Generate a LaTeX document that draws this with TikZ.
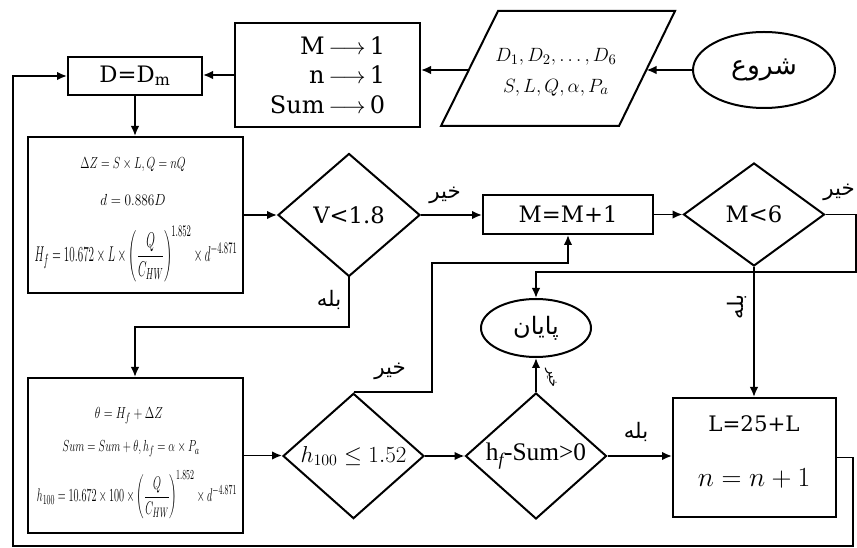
\documentclass[tikz,border=0pt]{standalone}
\usepackage{amsmath}
\usepackage{fontspec}
\usepackage{graphicx}
\setmainfont{Liberation Serif}
\newfontfamily\arabicfont[Script=Arabic]{DejaVu Sans}
\newfontfamily\labfont{DejaVu Serif}
\TeXXeTstate=1
\usetikzlibrary{shapes.geometric,arrows.meta}
\newcommand{\fa}[1]{{\arabicfont\beginR #1\endR}}
\newcommand{\fs}[1]{\fontsize{#1}{#1}\selectfont}
\newcommand{\sqz}[2]{\resizebox{#1}{\height}{#2}}
\begin{document}
\begin{tikzpicture}[x=0.75pt,y=-0.75pt,
  box/.style={draw, line width=1.5pt, inner sep=0pt},
  dia/.style={draw, diamond, line width=1.5pt, inner sep=0pt},
  ell/.style={draw, ellipse, line width=1.5pt, inner sep=0pt},
  arr/.style={line width=1.4pt, -{Latex[length=7.5pt,width=6.5pt]}},
  lab/.style={font=\fs{16}\arabicfont, inner sep=1pt},
  bigtxt/.style={font=\fs{17}\labfont},
  frm/.style={font=\fs{13}, inner sep=0pt}]
\useasboundingbox (0,0) rectangle (857,548);

% start
\node[ell, minimum width=106.5pt, minimum height=57pt] (start) at (764,70) {\fs{20}\fa{شروع}};

% input parallelogram
\draw[line width=1.5pt] (498,11) -- (675,11) -- (619,126) -- (441,126) -- cycle;
\node[inner sep=0pt, align=center, font=\fs{15}] (inp) at (556,72)
  {$D_1, D_2,\ldots, D_6$\\[8pt] $S, L, Q, \alpha, P_a$};
\coordinate (pR) at (646.5,70);
\coordinate (pL) at (469,70);

% init box
\node[box, minimum width=138.75pt, minimum height=78pt, align=right, font=\fs{18}\labfont] (init) at (327.5,75)
  {M\,$\longrightarrow$\,1\\[4pt] n\,$\longrightarrow$\,1\\[4pt] Sum\,$\longrightarrow$\,0};

% D box
\node[box, minimum width=100.5pt, minimum height=28.5pt, bigtxt] (D) at (135,76) {D=D\textsubscript{m}};

% formula box 1
\node[box, minimum width=161.25pt, minimum height=117pt] (b1) at (135.5,215) {};
\node[frm] (b1a) at (133,165) {\sqz{79pt}{$\Delta Z = S\times L, Q = nQ$}};
\node[frm] (b1b) at (133,200) {\sqz{49pt}{$d = 0.886D$}};
\node[frm] (b1c) at (136,254) {\resizebox*{152pt}{42pt}{$H_f = 10.672\times L\times\biggl(\dfrac{Q}{C_{HW}}\biggr)^{\!1.852}\times d^{-4.871}$}};

% V diamond
\node[dia, minimum width=106.5pt, minimum height=92.25pt, bigtxt] (V) at (349,215) {V<1.8};

% M=M+1
\node[box, minimum width=127.5pt, minimum height=29.25pt, bigtxt] (Mb) at (568,214.5) {M=M+1};

% M<6
\node[dia, minimum width=105.75pt, minimum height=77.25pt, bigtxt] (M6) at (754,214.5) {M<6};

% end
\node[ell, minimum width=82.5pt, minimum height=43.5pt] (end) at (536,328) {\fs{18}\fa{پایان}};

% formula box 2
\node[box, minimum width=161.25pt, minimum height=116.25pt] (b2) at (135.5,455.5) {};
\node[frm] (b2a) at (129,416) {\sqz{51pt}{$\theta = H_f + \Delta Z$}};
\node[frm] (b2b) at (131,449) {\sqz{103pt}{$Sum = Sum + \theta, h_f = \alpha\times P_a$}};
\node[frm] (b2c) at (137,495) {\resizebox*{150pt}{36pt}{$h_{100} = 10.672\times 100\times\biggl(\dfrac{Q}{C_{HW}}\biggr)^{\!1.852}\times d^{-4.871}$}};

% h100 diamond
\node[dia, minimum width=105.75pt, minimum height=93pt, font=\fs{18}] (h) at (353.5,456) {$h_{100}\leq 1.52$};

% hf diamond
\node[dia, minimum width=105.75pt, minimum height=92.25pt, font=\fs{19}] (hf) at (536,456) {h\textsubscript{\itshape f}-Sum>0};

% L box
\node[box, minimum width=122.25pt, minimum height=89.25pt] (Lb) at (754.5,457.5) {};
\node[inner sep=0pt, font=\fs{16}\labfont] (Lt1) at (754,424) {L=25+L};
\node[inner sep=0pt, font=\fs{21}] (Lt2) at (754,478) {$n = n+1$};

% connectors
\draw[arr] (start.west) -- (pR);
\draw[arr] (pL) -- (pL -| init.east);
\draw[arr] (init.west) -- (init.west -| D.east);
\draw[arr] (D.south) -- (D.south |- b1.north);
\draw[arr] (b1.east) -- (V.west);
\draw[arr] (V.east) -- (V.east -| Mb.west);
\draw[arr] (Mb.east) -- (M6.west);
\coordinate (c1) at (856,272);
\draw[arr] (M6.east) -| (c1) -| (end.north);
\draw[arr] (M6.south) -- (M6.south |- Lb.north);
\coordinate (c2) at (135,327);
\draw[arr] (V.south) |- (c2) -- (c2 |- b2.north);
\draw[arr] (b2.east) -- (b2.east -| h.west);
\coordinate (c3) at (432,263);
\draw[arr] (h.north) -| (c3) -| (Mb.south);
\draw[arr] (h.east) -- (hf.west);
\draw[arr] (hf.north) -- (end.south);
\draw[arr] (hf.east) -- (hf.east -| Lb.west);
\coordinate (c4) at (853,546);
\coordinate (c5) at (13,546);
\draw[arr] (Lb.east) -| (c4) -- (c5) |- (D.west);

% labels
\node[lab] (l1) at (445,195) {\fa{خیر}};
\node[lab] (l2) at (839,192) {\fa{خیر}};
\node[lab] (l3) at (329,300) {\fa{بله}};
\node[lab, rotate=90] (l4) at (737,307) {\fa{بله}};
\node[lab] (l5) at (390,371) {\fa{خیر}};
\node[lab, font=\fs{10}\arabicfont, rotate=-85] (l6) at (551,378) {\fa{خیر}};
\node[lab] (l7) at (636,432) {\fa{بله}};
\end{tikzpicture}
\end{document}
